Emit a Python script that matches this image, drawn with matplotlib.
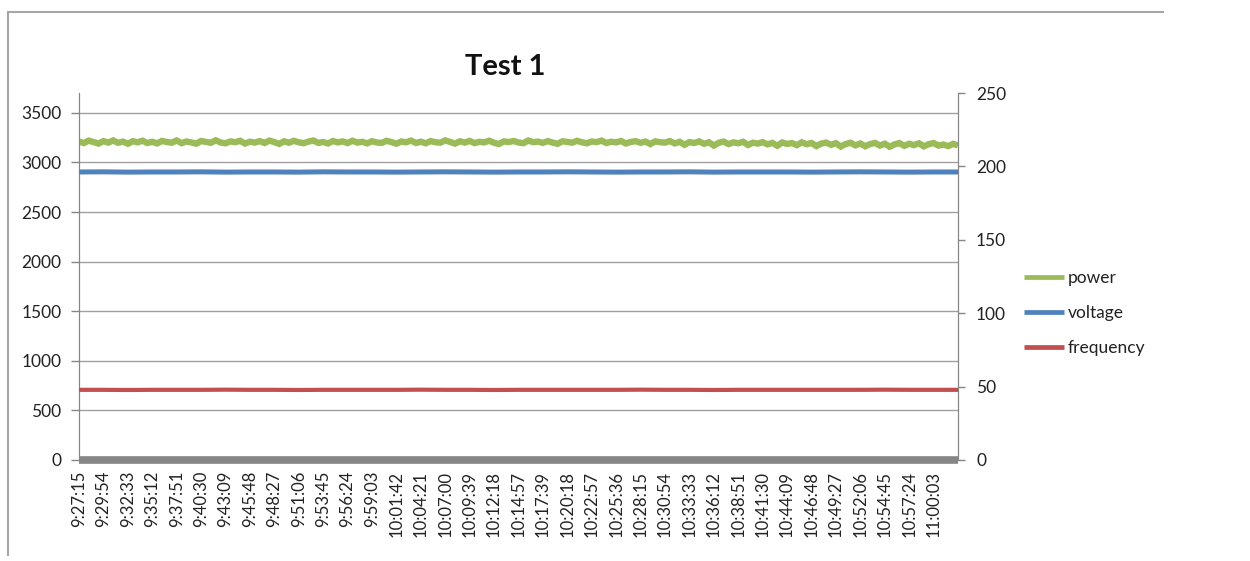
import matplotlib
matplotlib.use("Agg")
import matplotlib.pyplot as plt
from matplotlib.lines import Line2D
import numpy as np

plt.rcParams['font.family'] = ['Lato', 'DejaVu Sans']

# tick labels of the category (time) axis, one every 5 samples
time_labels = ["9:27:15", "9:29:54", "9:32:33", "9:35:12", "9:37:51", "9:40:30",
               "9:43:09", "9:45:48", "9:48:27", "9:51:06", "9:53:45", "9:56:24",
               "9:59:03", "10:01:42", "10:04:21", "10:07:00", "10:09:39", "10:12:18",
               "10:14:57", "10:17:39", "10:20:18", "10:22:57", "10:25:36", "10:28:15",
               "10:30:54", "10:33:33", "10:36:12", "10:38:51", "10:41:30", "10:44:09",
               "10:46:48", "10:49:27", "10:52:06", "10:54:45", "10:57:24", "11:00:03"]

# power (W), left axis, 181 samples
power = [3210, 3195, 3220, 3205, 3190, 3215, 3200, 3222, 3198, 3210,
         3188, 3214, 3203, 3219, 3196, 3208, 3192, 3217, 3206, 3199,
         3221, 3194, 3211, 3202, 3189, 3216, 3207, 3198, 3223, 3201,
         3193, 3212, 3204, 3218, 3190, 3209, 3200, 3215, 3196, 3220,
         3205, 3187, 3213, 3199, 3218, 3203, 3194, 3210, 3221, 3197,
         3206, 3191, 3216, 3202, 3212, 3195, 3219, 3200, 3208, 3192,
         3214, 3201, 3197, 3218, 3205, 3189, 3211, 3203, 3220, 3196,
         3209, 3193, 3215, 3204, 3199, 3222, 3207, 3190, 3213, 3200,
         3217, 3195, 3208, 3202, 3219, 3198, 3186, 3212, 3206, 3216,
         3201, 3194, 3221, 3204, 3210, 3197, 3215, 3200, 3188, 3213,
         3207, 3199, 3218, 3203, 3193, 3211, 3205, 3220, 3196, 3209,
         3202, 3216, 3191, 3207, 3214, 3198, 3210, 3185, 3212, 3204,
         3200, 3215, 3192, 3208, 3178, 3205, 3196, 3212, 3188, 3203,
         3170, 3198, 3210, 3185, 3202, 3193, 3208, 3176, 3199, 3190,
         3205, 3182, 3197, 3168, 3201, 3187, 3195, 3174, 3203, 3184,
         3196, 3165, 3190, 3200, 3178, 3194, 3160, 3186, 3198, 3172,
         3191, 3163, 3185, 3197, 3170, 3189, 3158, 3182, 3195, 3167,
         3188, 3175, 3193, 3162, 3184, 3196, 3170, 3180, 3165, 3187, 3172]

# voltage (V) and frequency (Hz), right axis, every 5th sample
voltage = [196.2, 196.3, 196.1, 196.2, 196.2, 196.3, 196.1, 196.2, 196.2, 196.1,
           196.3, 196.2, 196.2, 196.1, 196.2, 196.3, 196.2, 196.1, 196.2, 196.2,
           196.3, 196.2, 196.1, 196.2, 196.2, 196.3, 196.1, 196.2, 196.2, 196.2,
           196.1, 196.2, 196.3, 196.2, 196.1, 196.2, 196.2]
frequency = [47.8, 47.8, 47.7, 47.8, 47.8, 47.8, 47.9, 47.8, 47.8, 47.7,
             47.8, 47.8, 47.8, 47.8, 47.9, 47.8, 47.8, 47.7, 47.8, 47.8,
             47.8, 47.8, 47.8, 47.9, 47.8, 47.8, 47.7, 47.8, 47.8, 47.8,
             47.8, 47.8, 47.8, 47.9, 47.8, 47.8, 47.8]

series_names = ["power", "voltage", "frequency"]
colors = ["#9BBB59", "#4F81BD", "#C0504D"]
axis_gray = "#868686"

x_power = np.arange(len(power))
x_coarse = np.arange(0, len(power), 5)

fig = plt.figure(figsize=(12.5, 5.61), dpi=100)
ax = fig.add_axes([79 / 1250, 1 - 460 / 561, (958 - 79) / 1250, (460 - 93) / 561])
ax2 = ax.twinx()

ax.plot(x_power, power, color=colors[0], linewidth=4.6, solid_joinstyle='miter',
        solid_capstyle='butt', zorder=3)
ax2.plot(x_coarse, voltage, color=colors[1], linewidth=3.6, solid_capstyle='butt', zorder=3)
ax2.plot(x_coarse, frequency, color=colors[2], linewidth=3.0, solid_capstyle='butt', zorder=3)

ax.set_xlim(0, len(power) - 1)
ax.set_ylim(0, 3700)
ax2.set_ylim(0, 250)
ax.set_yticks(range(0, 3501, 500))
ax2.set_yticks(range(0, 251, 50))
ax.set_xticks(x_coarse[:len(time_labels)])
ax.set_xticklabels(time_labels, rotation=90, fontsize=12)

ax.grid(axis='y', color='#a0a0a0', linewidth=1.0)
ax.set_axisbelow(True)

for a in (ax, ax2):
    a.spines['top'].set_visible(False)
    a.spines['left'].set_color(axis_gray)
    a.spines['right'].set_color(axis_gray)
    a.spines['bottom'].set_visible(False)
ax.spines['bottom'].set_visible(True)
ax.spines['bottom'].set_color(axis_gray)
ax.spines['bottom'].set_linewidth(5.5)
ax.spines['bottom'].set_capstyle('butt')
ax.spines['bottom'].set_zorder(5)

ax.tick_params(axis='y', length=5.5, width=1, color=axis_gray, pad=7, labelsize=12.5, labelcolor='#222222')
ax2.tick_params(axis='y', length=5, width=1, color=axis_gray, pad=8, labelsize=12.5, labelcolor='#222222')
ax.tick_params(axis='x', length=0, pad=8, labelcolor='#222222')

fig.text(505 / 1250, 1 - 67 / 561, "Test 1", ha='center', va='center',
         fontsize=21, fontweight='bold', color='#111111')

handles = [Line2D([], [], color=c, linewidth=3.4, solid_capstyle='butt') for c in colors]
fig.legend(handles, series_names, loc='center left', bbox_to_anchor=(1008 / 1250, 1 - 313 / 561),
           frameon=False, fontsize=12.5, handlelength=2.3, handletextpad=0.25, labelspacing=1.1,
           labelcolor='#222222')

# chart area frame (top and left edges visible in the screenshot)
fig.add_artist(Line2D([8 / 1250, 1163 / 1250], [1 - 12 / 561, 1 - 12 / 561], color='#a6a6a6', linewidth=1.5))
fig.add_artist(Line2D([8 / 1250, 8 / 1250], [1 - 12 / 561, 1 - 555 / 561], color='#a6a6a6', linewidth=1.5))

fig.savefig("out.png", dpi=100)
